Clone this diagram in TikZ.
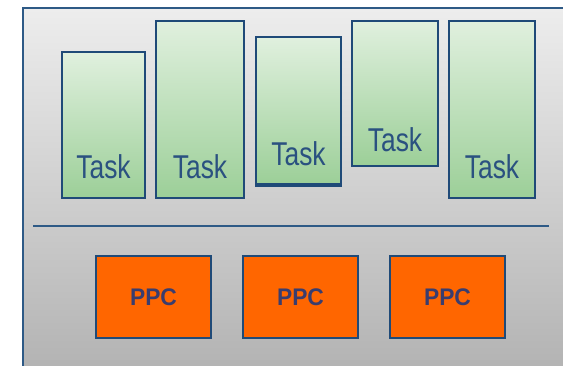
\documentclass[tikz,border=0pt]{standalone}
\usepackage{fontspec}
\setmainfont{Liberation Sans}
\usetikzlibrary{calc}
\definecolor{frameblue}{HTML}{2E5A86}
\definecolor{boxblue}{HTML}{1F4A78}
\definecolor{tasktxt}{HTML}{2A5180}
\definecolor{ppctxt}{HTML}{3A3D6E}
\definecolor{greentop}{HTML}{E0F0DE}
\definecolor{greenbot}{HTML}{9CCF98}
\definecolor{ppcorange}{HTML}{FF6600}
\definecolor{bgtop}{HTML}{EDEDED}
\definecolor{bgbot}{HTML}{B2B2B2}
\tikzset{
  taskbox/.style={draw=boxblue, line width=2pt, top color=greentop, bottom color=greenbot, anchor=south west, inner sep=0pt},
  tasklabel/.style={anchor=base, text=tasktxt, font=\fontsize{33}{33}\selectfont, xscale=0.8, inner sep=0pt},
  ppcbox/.style={draw=boxblue, line width=2pt, fill=ppcorange, anchor=south west, inner sep=0pt, minimum width=115pt, minimum height=82pt},
  ppclabel/.style={text=ppctxt, font=\bfseries\fontsize{24}{24}\selectfont, xscale=0.95, inner sep=0pt},
}
\begin{document}
\begin{tikzpicture}[x=1pt,y=1pt]
\useasboundingbox (0,0) rectangle (563,365);
\clip (0,0) rectangle (563,365);
\fill[white] (0,0) rectangle (563,365);
% outer frame
\path[top color=bgtop, bottom color=bgbot, draw=frameblue, line width=2pt] (22.5,-10) rectangle (575,357);
% tasks
\node[taskbox, minimum width=83pt, minimum height=146pt] (t1) at (61,166) {};
\node[taskbox, minimum width=88pt, minimum height=177pt] (t2) at (155,166) {};
\node[taskbox, minimum width=85pt, minimum height=147pt] (t3) at (255,180) {};
\node[taskbox, minimum width=86pt, minimum height=145pt] (t4) at (351,198) {};
\node[taskbox, minimum width=86pt, minimum height=177pt] (t5) at (448,166) {};
\draw[boxblue, line width=2pt] ($(t3.south west)+(0,-1)$) coordinate (t3a) -- ($(t3.south east)+(0,-1)$) coordinate (t3b);
\node[tasklabel] (l1) at ($(t1.south)+(0,20)$) {Task};
\node[tasklabel] (l2) at ($(t2.south)+(0,20)$) {Task};
\node[tasklabel] (l3) at ($(t3.south)+(0,20)$) {Task};
\node[tasklabel] (l4) at ($(t4.south)+(0,15)$) {Task};
\node[tasklabel] (l5) at ($(t5.south)+(0,20)$) {Task};
% separator
\coordinate (sepL) at (33,139);
\coordinate (sepR) at (549,139);
\draw[frameblue, line width=2pt] (sepL) -- (sepR);
% PPC
\node[ppcbox] (p1) at (95,26) {};
\node[ppcbox] (p2) at (242,26) {};
\node[ppcbox] (p3) at (389,26) {};
\node[ppclabel] at (p1.center) {PPC};
\node[ppclabel] at (p2.center) {PPC};
\node[ppclabel] at (p3.center) {PPC};
\end{tikzpicture}
\end{document}
